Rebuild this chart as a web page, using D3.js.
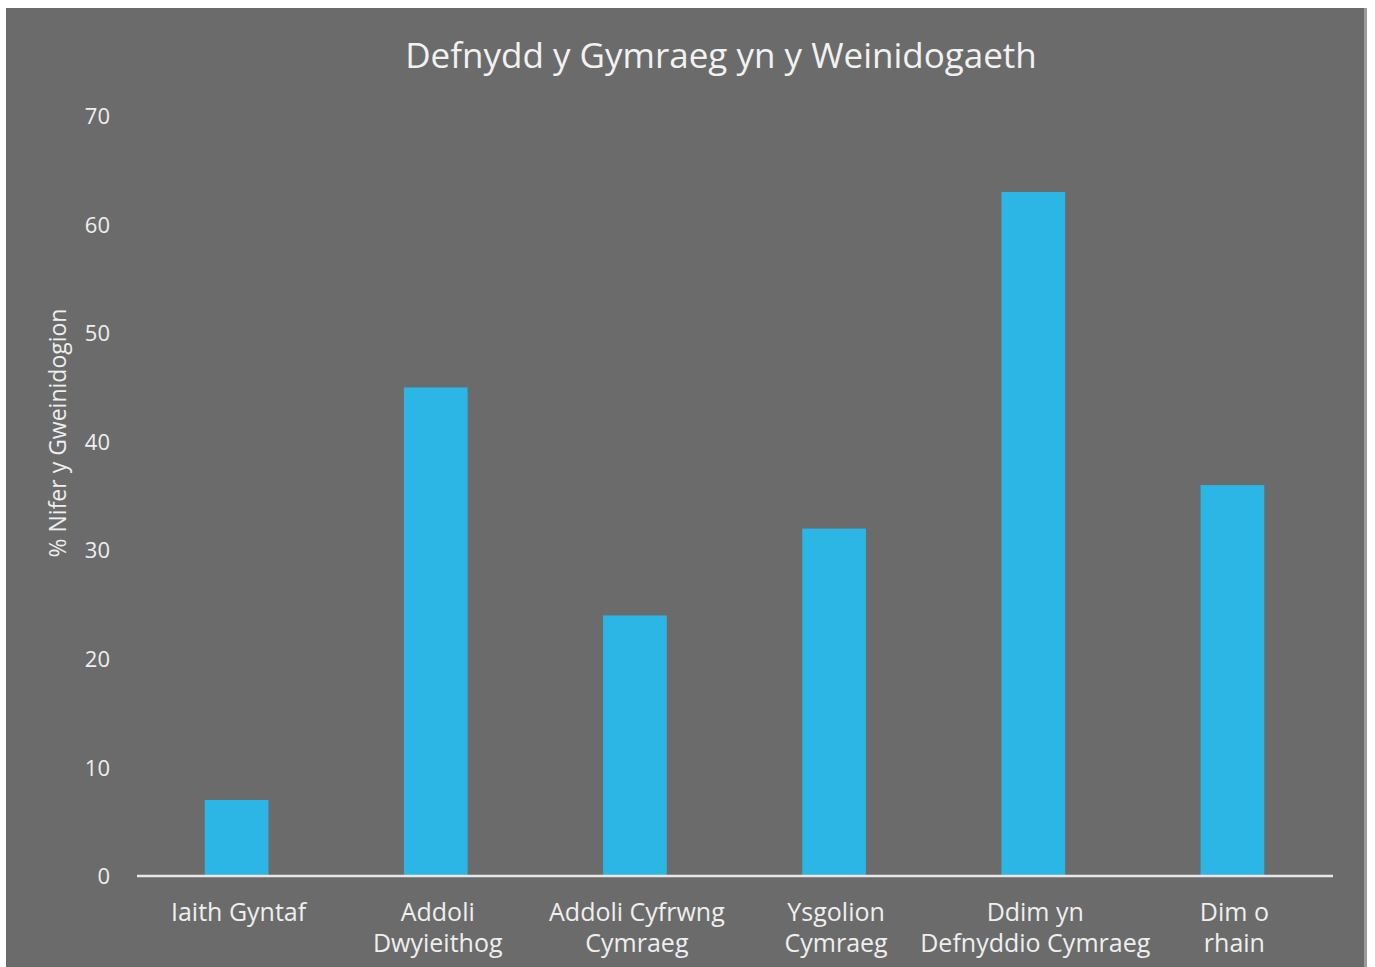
<!DOCTYPE html>
<html><head><meta charset="utf-8">
<script src="https://cdn.jsdelivr.net/npm/d3@7"></script>
<style>html,body{margin:0;padding:0;background:#fff;}svg{display:block;}</style>
</head><body>
<script>
const categories = [["Iaith Gyntaf"],["Addoli","Dwyieithog"],["Addoli Cyfrwng","Cymraeg"],["Ysgolion","Cymraeg"],["Ddim yn","Defnyddio Cymraeg"],["Dim o","rhain"]];
const values = [7, 45, 24, 32, 63, 36];
const yTicks = [0,10,20,30,40,50,60,70];
const title = "Defnydd y Gymraeg yn y Weinidogaeth";
const yTitle = "% Nifer y Gweinidogion";

const W = 1375, H = 967;
const font = "'Open Sans', 'Noto Sans', sans-serif";
const svg = d3.select("body").append("svg").attr("width", W).attr("height", H);
svg.append("rect").attr("x",6).attr("y",8).attr("width",1361).attr("height",959).attr("fill","#6b6b6b");
svg.append("rect").attr("x",1364).attr("y",8).attr("width",3).attr("height",959).attr("fill","#9a9a9a");

const x = d3.scaleBand().domain(d3.range(categories.length)).range([137,1332]).paddingInner(0.68).paddingOuter(0.34);
const y = d3.scaleLinear().domain([0,70]).range([876,116]);

svg.append("text").attr("x",721).attr("y",68).attr("text-anchor","middle")
  .attr("font-family",font).attr("font-size",35).attr("fill","#f2f2f2").text(title);

svg.selectAll("rect.bar").data(values).enter().append("rect").attr("class","bar")
  .attr("x",(d,i)=>x(i)).attr("width",x.bandwidth())
  .attr("y",d=>y(d)).attr("height",d=>y(0)-y(d)).attr("fill","#2bb6e6");

const yAxis = svg.append("g").attr("transform","translate(110,0)")
  .call(d3.axisLeft(y).tickValues(yTicks).tickSize(0).tickPadding(0));
yAxis.select(".domain").remove();
yAxis.selectAll("text").attr("font-family",font).attr("font-size",22).attr("fill","#efefef").attr("dy","0.35em");

svg.append("line").attr("x1",137).attr("x2",1333).attr("y1",y(0)).attr("y2",y(0))
  .attr("stroke","#e8e8e8").attr("stroke-width",2.5);

const xl = svg.append("g");
categories.forEach((lines,i)=>{
  const t = xl.append("text").attr("text-anchor","middle").attr("font-family",font)
    .attr("font-size",25).attr("fill","#efefef");
  lines.forEach((ln,j)=>{
    t.append("tspan").attr("x",x(i)+x.bandwidth()/2+2).attr("y",921+j*31).text(ln);
  });
});

svg.append("text").attr("transform","translate(66,433) rotate(-90)").attr("text-anchor","middle")
  .attr("font-family",font).attr("font-size",23).attr("fill","#efefef").text(yTitle);
</script>
</body></html>
